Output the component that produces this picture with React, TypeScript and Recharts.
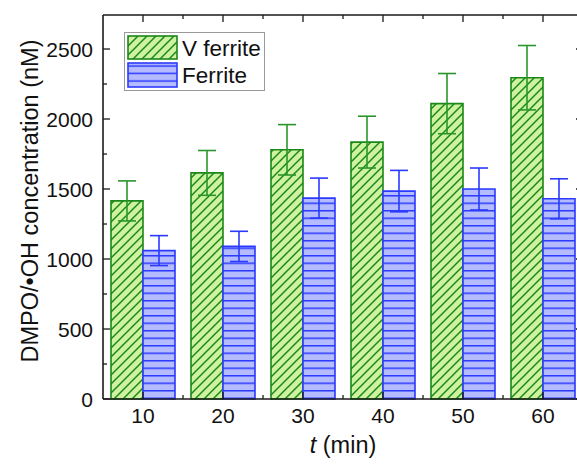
import React from 'react';
import { BarChart, Bar, XAxis, YAxis, ErrorBar, ReferenceLine } from 'recharts';

const times = ['10', '20', '30', '40', '50', '60'];
const vFerrite = [1415, 1615, 1780, 1835, 2110, 2295];
const vFerriteErr = [143, 160, 180, 185, 215, 230];
const ferrite = [1060, 1090, 1435, 1485, 1500, 1430];
const ferriteErr = [107, 108, 143, 148, 150, 143];
const yTicks = [0, 250, 500, 750, 1000, 1250, 1500, 1750, 2000, 2250, 2500];
const seriesNames = ['V ferrite', 'Ferrite'];

const Y_MAX = 2743;
const data = times.map((t, i) => ({
  t,
  v: vFerrite[i],
  vErr: vFerriteErr[i],
  f: ferrite[i],
  fErr: ferriteErr[i],
}));

const FONT = '"Liberation Sans", Arial, sans-serif';
const AXIS = '#1a1a1a';
const PLOT_LEFT = 103;
const PLOT_RIGHT = 583;
const PLOT_TOP = 15;
const PLOT_BOTTOM = 399;
const BAND = (PLOT_RIGHT - PLOT_LEFT) / times.length;

const GREEN_FILL = '#cff2a0';
const GREEN_LINE = '#1a881a';
const BLUE_FILL = '#b4bbff';
const BLUE_LINE = '#2b3aff';

const YTick = (props: any) => {
  const { y, payload } = props;
  const major = payload.value % 500 === 0;
  const len = major ? 7 : 4;
  return (
    <g>
      <line x1={PLOT_LEFT} x2={PLOT_LEFT + len} y1={y} y2={y} stroke={AXIS} strokeWidth={1.3} />
      <line x1={PLOT_RIGHT - len} x2={PLOT_RIGHT} y1={y} y2={y} stroke={AXIS} strokeWidth={1.3} />
      {major && (
        <text x={PLOT_LEFT - 10} y={y + 7.5} textAnchor="end" fontSize={21} fontFamily={FONT} fill="#111">
          {payload.value}
        </text>
      )}
    </g>
  );
};

const XTick = (props: any) => {
  const { x, payload } = props;
  const m = x + BAND / 2;
  return (
    <g>
      <line x1={x} x2={x} y1={PLOT_BOTTOM} y2={PLOT_BOTTOM - 7} stroke={AXIS} strokeWidth={1.3} />
      <line x1={x} x2={x} y1={PLOT_TOP} y2={PLOT_TOP + 7} stroke={AXIS} strokeWidth={1.3} />
      <line x1={m} x2={m} y1={PLOT_BOTTOM} y2={PLOT_BOTTOM - 4} stroke={AXIS} strokeWidth={1.3} />
      <line x1={m} x2={m} y1={PLOT_TOP} y2={PLOT_TOP + 4} stroke={AXIS} strokeWidth={1.3} />
      <text x={x} y={PLOT_BOTTOM + 24} textAnchor="middle" fontSize={21} fontFamily={FONT} fill="#111">
        {payload.value}
      </text>
    </g>
  );
};

const YTitle = () => (
  <text
    x={38}
    y={201}
    transform="rotate(-90 38 201)"
    textAnchor="middle"
    fontSize={23.5}
    fontFamily={FONT}
    fill="#111"
  >
    DMPO/•OH concentration (nM)
  </text>
);

const XTitle = () => (
  <text x={343} y={453} textAnchor="middle" fontSize={23.5} fontFamily={FONT} fill="#111">
    <tspan fontStyle="italic">t</tspan> (min)
  </text>
);

const LegendBox = () => (
  <svg width={142} height={60} style={{ display: 'block' }}>
    <defs>
      <pattern id="lgGreen" patternUnits="userSpaceOnUse" width={9} height={9}>
        <rect x={0} y={0} width={9} height={9} fill={GREEN_FILL} />
        <path d="M0,9 L9,0 M-2,2 L2,-2 M7,11 L11,7" stroke={GREEN_LINE} strokeWidth={1.5} />
      </pattern>
      <pattern id="lgBlue" patternUnits="userSpaceOnUse" width={8} height={7.5}>
        <rect x={0} y={0} width={8} height={7.5} fill={BLUE_FILL} />
        <line x1={0} x2={8} y1={4} y2={4} stroke={BLUE_LINE} strokeWidth={1.5} />
      </pattern>
    </defs>
    <rect x={0.5} y={0.5} width={140} height={58} fill="#fff" stroke="#999" strokeWidth={1} />
    <rect x={4} y={4} width={49} height={23} fill="url(#lgGreen)" stroke={GREEN_LINE} strokeWidth={1.6} />
    <rect x={4} y={31} width={49} height={24} fill="url(#lgBlue)" stroke={BLUE_LINE} strokeWidth={1.6} />
    <text x={58} y={24} fontSize={22.5} fontFamily={FONT} fill="#111">{seriesNames[0]}</text>
    <text x={58} y={51} fontSize={22.5} fontFamily={FONT} fill="#111">{seriesNames[1]}</text>
  </svg>
);

export default function App() {
  return (
    <div style={{ position: 'absolute', left: 0, top: 0, width: 577, height: 466, overflow: 'hidden', background: '#fff' }}>
      <BarChart
        width={PLOT_RIGHT}
        height={466}
        data={data}
        margin={{ top: PLOT_TOP, right: 0, bottom: 0, left: 0 }}
        barCategoryGap="10%"
        barGap={0}
      >
        <defs>
          <pattern id="hatchGreen" patternUnits="userSpaceOnUse" width={9} height={9}>
            <rect x={0} y={0} width={9} height={9} fill={GREEN_FILL} />
            <path d="M0,9 L9,0 M-2,2 L2,-2 M7,11 L11,7" stroke={GREEN_LINE} strokeWidth={1.5} />
          </pattern>
          <pattern id="hatchBlue" patternUnits="userSpaceOnUse" width={8} height={7.5}>
            <rect x={0} y={0} width={8} height={7.5} fill={BLUE_FILL} />
            <line x1={0} x2={8} y1={0.75} y2={0.75} stroke={BLUE_LINE} strokeWidth={1.5} />
          </pattern>
        </defs>
        <XAxis
          dataKey="t"
          height={466 - PLOT_BOTTOM}
          tick={<XTick />}
          tickLine={false}
          axisLine={{ stroke: AXIS, strokeWidth: 1.6 }}
          interval={0}
          label={<XTitle />}
        />
        <YAxis
          width={PLOT_LEFT}
          domain={[0, Y_MAX]}
          ticks={yTicks}
          interval={0}
          tick={<YTick />}
          tickLine={false}
          axisLine={{ stroke: AXIS, strokeWidth: 1.6 }}
          label={<YTitle />}
        />
        <Bar dataKey="v" name={seriesNames[0]} fill="url(#hatchGreen)" stroke={GREEN_LINE} strokeWidth={1.6} isAnimationActive={false}>
          <ErrorBar dataKey="vErr" stroke="#2a962a" strokeWidth={1.6} width={9} />
        </Bar>
        <Bar dataKey="f" name={seriesNames[1]} fill="url(#hatchBlue)" stroke={BLUE_LINE} strokeWidth={1.6} isAnimationActive={false}>
          <ErrorBar dataKey="fErr" stroke={BLUE_LINE} strokeWidth={1.6} width={9} />
        </Bar>
        <ReferenceLine y={Y_MAX} stroke={AXIS} strokeWidth={1.6} ifOverflow="visible" />
      </BarChart>
      <div style={{ position: 'absolute', left: 124, top: 32 }}>
        <LegendBox />
      </div>
    </div>
  );
}
